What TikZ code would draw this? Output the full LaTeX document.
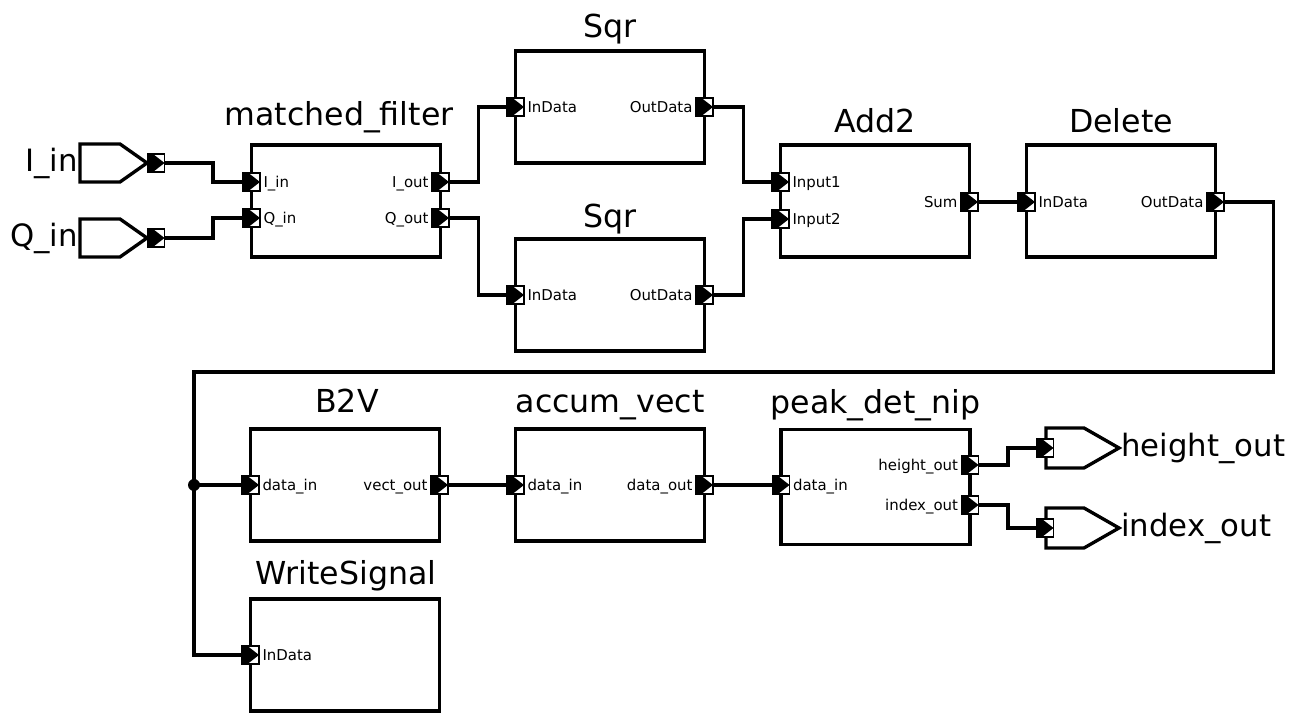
\documentclass[tikz,border=0pt]{standalone}
\usepackage{fontspec}
\setmainfont{DejaVu Sans}
\usetikzlibrary{positioning}

\tikzset{
	wire/.style={line width=1.9pt},
	pinshape/.style={line width=1.9pt, line join=miter},
	block/.style={draw, line width=1.9pt, minimum width=3.78cm, minimum height=2.24cm, inner sep=0pt},
	title/.style={font=\fontsize{18}{21}\selectfont, anchor=base, inner sep=0pt},
	port/.style={draw, line width=0.6pt, fill=white, minimum width=0.34cm, minimum height=0.36cm, inner sep=0pt,
		path picture={\fill[black] (path picture bounding box.north west) -- ([xshift=0.11cm]path picture bounding box.north west)
			-- (path picture bounding box.east) -- ([xshift=0.11cm]path picture bounding box.south west)
			-- (path picture bounding box.south west) -- cycle;}},
	plabel/.style={font=\fontsize{8.5}{10}\selectfont, text height=6.2pt, text depth=0pt, inner sep=0.5pt},
	pinlabel/.style={font=\fontsize{17.5}{20}\selectfont, inner sep=0pt},
	dot/.style={circle, fill, inner sep=0pt, minimum size=0.24cm},
	node distance=1pt
}

\begin{document}
\begin{tikzpicture}[x=0.02cm, y=-0.02cm]

	\useasboundingbox (0,0) rectangle (1309,715);

	% Input pins
	\draw[pinshape] (80,144) -- (120,144) -- (147,163) -- (120,182) -- (80,182) -- cycle;
	\draw[pinshape] (80,219) -- (120,219) -- (147,238) -- (120,257) -- (80,257) -- cycle;
	\node[port] (iinP) at (156,163) {};
	\node[port] (qinP) at (156,238) {};
	\node[pinlabel, anchor=base east] (iinL) at (78,172) {I\_in};
	\node[pinlabel, anchor=base east] (qinL) at (78,247) {Q\_in};

	% matched_filter
	\node[block] (mf) at (346,201) {};
	\node[title] (mfT) at (339,126) {matched\_filter};
	\node[port] (mfIin) at (251.5,182) {};
	\node[port] (mfQin) at (251.5,218) {};
	\node[port] (mfIout) at (440.5,182) {};
	\node[port] (mfQout) at (440.5,218) {};
	\node[plabel, right=of mfIin] (mfIinL) {I\_in};
	\node[plabel, right=of mfQin] (mfQinL) {Q\_in};
	\node[plabel, left=of mfIout] (mfIoutL) {I\_out};
	\node[plabel, left=of mfQout] (mfQoutL) {Q\_out};

	% Sqr (top)
	\node[block] (sqa) at (610,107) {};
	\node[title] (sqaT) at (610,38) {Sqr};
	\node[port] (sqaIn) at (515.5,107) {};
	\node[port] (sqaOut) at (704.5,107) {};
	\node[plabel, right=of sqaIn] (sqaInL) {InData};
	\node[plabel, left=of sqaOut] (sqaOutL) {OutData};

	% Sqr (bottom)
	\node[block] (sqb) at (610,295) {};
	\node[title] (sqbT) at (610,228) {Sqr};
	\node[port] (sqbIn) at (515.5,295) {};
	\node[port] (sqbOut) at (704.5,295) {};
	\node[plabel, right=of sqbIn] (sqbInL) {InData};
	\node[plabel, left=of sqbOut] (sqbOutL) {OutData};

	% Add2
	\node[block] (add) at (875,201) {};
	\node[title] (addT) at (875,133) {Add2};
	\node[port] (addIa) at (780.5,182) {};
	\node[port] (addIb) at (780.5,219) {};
	\node[port] (addSum) at (969.5,202) {};
	\node[plabel, right=of addIa] (addIaL) {Input1};
	\node[plabel, right=of addIb] (addIbL) {Input2};
	\node[plabel, left=of addSum] (addSumL) {Sum};

	% Delete
	\node[block] (del) at (1121,201) {};
	\node[title] (delT) at (1121,133) {Delete};
	\node[port] (delIn) at (1026.5,202) {};
	\node[port] (delOut) at (1215.5,202) {};
	\node[plabel, right=of delIn] (delInL) {InData};
	\node[plabel, left=of delOut] (delOutL) {OutData};

	% B2V
	\node[block] (b2v) at (345,485) {};
	\node[title] (b2vT) at (347,413) {B2V};
	\node[port] (b2vIn) at (250.5,485) {};
	\node[port] (b2vOut) at (439.5,485) {};
	\node[plabel, right=of b2vIn] (b2vInL) {data\_in};
	\node[plabel, left=of b2vOut] (b2vOutL) {vect\_out};

	% accum_vect
	\node[block] (acc) at (610,485) {};
	\node[title] (accT) at (610,413) {accum\_vect};
	\node[port] (accIn) at (515.5,485) {};
	\node[port] (accOut) at (704.5,485) {};
	\node[plabel, right=of accIn] (accInL) {data\_in};
	\node[plabel, left=of accOut] (accOutL) {data\_out};

	% peak_det_nip
	\node[block, minimum height=2.3cm] (pk) at (875.5,487) {};
	\node[title] (pkT) at (875.5,414) {peak\_det\_nip};
	\node[port] (pkIn) at (781,485) {};
	\node[port] (pkH) at (970,465) {};
	\node[port] (pkX) at (970,505) {};
	\node[plabel, right=of pkIn] (pkInL) {data\_in};
	\node[plabel, left=of pkH] (pkHL) {height\_out};
	\node[plabel, left=of pkX] (pkXL) {index\_out};

	% WriteSignal
	\node[block] (ws) at (345,655) {};
	\node[title] (wsT) at (346,585) {WriteSignal};
	\node[port] (wsIn) at (250.5,655) {};
	\node[plabel, right=of wsIn] (wsInL) {InData};

	% Output pins
	\draw[pinshape] (1046,428) -- (1084,428) -- (1119,448) -- (1084,468) -- (1046,468) -- cycle;
	\draw[pinshape] (1046,508) -- (1084,508) -- (1119,528) -- (1084,548) -- (1046,548) -- cycle;
	\node[port] (houtP) at (1045,448) {};
	\node[port] (xoutP) at (1045,528) {};
	\node[pinlabel, anchor=base west] (houtL) at (1121,457) {height\_out};
	\node[pinlabel, anchor=base west] (xoutL) at (1121,537) {index\_out};

	% Wires
	\node[dot] (split) at (194,485) {};
	\draw[wire] (iinP.east) -- ++(48,0) |- (mfIin.west);
	\draw[wire] (qinP.east) -- ++(48,0) |- (mfQin.west);
	\draw[wire] (mfIout.east) -- ++(29,0) |- (sqaIn.west);
	\draw[wire] (mfQout.east) -- ++(29,0) |- (sqbIn.west);
	\draw[wire] (sqaOut.east) -- ++(30,0) |- (addIa.west);
	\draw[wire] (sqbOut.east) -- ++(30,0) |- (addIb.west);
	\draw[wire] (addSum.east) -- (delIn.west);
	\draw[wire] (delOut.east) -- ++(49,0) -- ++(0,170) -| (split.center) |- (wsIn.west);
	\draw[wire] (split.center) -- (b2vIn.west);
	\draw[wire] (b2vOut.east) -- (accIn.west);
	\draw[wire] (accOut.east) -- (pkIn.west);
	\draw[wire] (pkH.east) -- ++(29,0) |- (houtP.west);
	\draw[wire] (pkX.east) -- ++(29,0) |- (xoutP.west);

\end{tikzpicture}
\end{document}
